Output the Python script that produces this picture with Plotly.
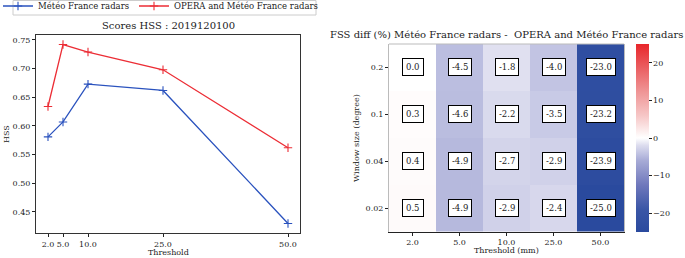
import plotly.graph_objects as go

# ---- data ----
thresholds = [2.0, 5.0, 10.0, 25.0, 50.0]
hss_mf = [0.581, 0.607, 0.673, 0.662, 0.430]
hss_opera_mf = [0.634, 0.742, 0.729, 0.698, 0.562]

fss_x_labels = ["2.0", "5.0", "10.0", "25.0", "50.0"]
fss_y_labels = ["0.2", "0.1", "0.04", "0.02"]  # top to bottom
fss_diff = [
    [0.0, -4.5, -1.8, -4.0, -23.0],
    [0.3, -4.6, -2.2, -3.5, -23.2],
    [0.4, -4.9, -2.7, -2.9, -23.9],
    [0.5, -4.9, -2.9, -2.4, -25.0],
]
cbar_ticks = [20, 10, 0, -10, -20]

W, H = 685, 258
FONT = "DejaVu Serif"
TXT = "#222222"

def px(x):
    return x / W

def py(y):
    return (H - y) / H

fig = go.Figure()

blue = "#2a52be"
red = "#ec2d35"
fig.add_trace(go.Scatter(
    x=thresholds, y=hss_mf, mode="lines+markers", name="Météo France radars",
    line=dict(color=blue, width=1.3),
    marker=dict(symbol="cross-thin", size=6, line=dict(color=blue, width=1.1)),
    xaxis="x", yaxis="y", legend="legend"))
fig.add_trace(go.Scatter(
    x=thresholds, y=hss_opera_mf, mode="lines+markers", name="OPERA and Météo France radars",
    line=dict(color=red, width=1.3),
    marker=dict(symbol="cross-thin", size=6, line=dict(color=red, width=1.1)),
    xaxis="x", yaxis="y", legend="legend2"))

colorscale = [
    [0.0, "#2a4a9e"],
    [0.12, "#3a56a6"],
    [0.25, "#6f78bc"],
    [0.38, "#a7abd6"],
    [0.41, "#bbbee0"],
    [0.46, "#dcdcee"],
    [0.5, "#ffffff"],
    [0.62, "#f6c6c6"],
    [0.75, "#ef9394"],
    [0.88, "#ea5b5e"],
    [1.0, "#e8262b"],
]

col_idx = list(range(len(fss_x_labels)))
row_idx = list(range(len(fss_y_labels)))

fig.add_trace(go.Heatmap(
    x=col_idx, y=row_idx, z=fss_diff,
    zmin=-25, zmax=25, colorscale=colorscale,
    xaxis="x2", yaxis="y2", showscale=True, hoverinfo="skip", showlegend=False,
    colorbar=dict(
        x=px(636), xanchor="left", thickness=13, thicknessmode="pixels",
        xpad=0, ypad=0,
        len=(232 - 44) / H, lenmode="fraction", y=py(232), yanchor="bottom",
        tickvals=cbar_ticks, ticktext=[str(t).replace("-", "\u2212") for t in cbar_ticks],
        ticks="outside", ticklen=3, tickcolor=TXT,
        tickfont=dict(family=FONT, size=8, color=TXT),
        outlinewidth=0,
    ),
))

annotations = []
for r in row_idx:
    for c in col_idx:
        annotations.append(dict(
            x=c, y=r, xref="x2", yref="y2", text=f"{fss_diff[r][c]:.1f}",
            showarrow=False, font=dict(family=FONT, size=8.5, color=TXT),
            bgcolor="white", bordercolor="black", borderwidth=1, borderpad=3))

annotations += [
    dict(x=px(168), y=py(26), xref="paper", yref="paper", text="Scores HSS : 2019120100",
         showarrow=False, font=dict(family=FONT, size=10, color=TXT), xanchor="center", yanchor="middle"),
    dict(x=px(506), y=py(34), xref="paper", yref="paper",
         text="FSS diff (%) Météo France radars -  OPERA and Météo France radars",
         showarrow=False, font=dict(family=FONT, size=10, color=TXT), xanchor="center", yanchor="middle"),
    dict(x=px(168), y=py(252), xref="paper", yref="paper", text="Threshold",
         showarrow=False, font=dict(family=FONT, size=8, color=TXT), xanchor="center", yanchor="middle"),
    dict(x=px(506), y=py(250), xref="paper", yref="paper", text="Threshold (mm)",
         showarrow=False, font=dict(family=FONT, size=8, color=TXT), xanchor="center", yanchor="middle"),
    dict(x=px(6), y=py(134), xref="paper", yref="paper", text="HSS", textangle=-90,
         showarrow=False, font=dict(family=FONT, size=8, color=TXT), xanchor="center", yanchor="middle"),
    dict(x=px(356), y=py(138), xref="paper", yref="paper", text="Window size (degree)", textangle=-90,
         showarrow=False, font=dict(family=FONT, size=8, color=TXT), xanchor="center", yanchor="middle"),
]

tickfont = dict(family=FONT, size=8, color=TXT)
legfont = dict(family=FONT, size=8.5, color=TXT)

fig.update_layout(
    width=W, height=H, margin=dict(l=0, r=0, t=0, b=0, autoexpand=False),
    paper_bgcolor="white", plot_bgcolor="white",
    showlegend=True,
    legend=dict(orientation="h", x=px(-2), y=1.0 + 8.5 / H, xanchor="left", yanchor="top",
                borderwidth=0, bgcolor="rgba(255,255,255,0)", font=legfont, itemwidth=30),
    legend2=dict(orientation="h", x=px(134), y=1.0 + 8.5 / H, xanchor="left", yanchor="top",
                 borderwidth=0, bgcolor="rgba(255,255,255,0)", font=legfont, itemwidth=30),
    xaxis=dict(domain=[px(36), px(300)], range=[-0.4, 52.4],
               tickvals=thresholds, ticktext=fss_x_labels, ticks="outside", ticklen=3,
               tickcolor=TXT, tickfont=tickfont, showgrid=False, zeroline=False,
               showline=True, linecolor="#333333", linewidth=1, mirror=True),
    yaxis=dict(domain=[py(233), py(35)], range=[0.4133, 0.7587],
               tickvals=[0.45, 0.50, 0.55, 0.60, 0.65, 0.70, 0.75], tickformat=".2f",
               ticks="outside", ticklen=3, tickcolor=TXT, tickfont=tickfont,
               showgrid=False, zeroline=False,
               showline=True, linecolor="#333333", linewidth=1, mirror=True),
    xaxis2=dict(domain=[px(389), px(624)], anchor="y2", range=[-0.5, 4.5],
                tickvals=col_idx, ticktext=fss_x_labels,
                ticks="outside", ticklen=3, tickcolor=TXT, tickfont=tickfont,
                showgrid=False, zeroline=False,
                showline=True, linecolor="#222222", linewidth=1),
    yaxis2=dict(domain=[py(231.5), py(44)], anchor="x2", range=[3.5, -0.5],
                tickvals=row_idx, ticktext=fss_y_labels,
                ticks="outside", ticklen=3, tickcolor=TXT, tickfont=tickfont,
                showgrid=False, zeroline=False,
                showline=True, linecolor="#bbbbbb", linewidth=1, mirror=True),
    annotations=annotations,
    shapes=[
        dict(type="line", xref="paper", yref="paper", x0=px(389), x1=px(624),
             y0=py(44), y1=py(44), line=dict(color="#bbbbbb", width=1)),
        # legend frame
        dict(type="rect", xref="paper", yref="paper", x0=px(13), x1=px(316),
             y0=py(15), y1=py(0.5), line=dict(color="#cccccc", width=1),
             fillcolor="rgba(0,0,0,0)"),
    ],
)

fig.write_html("out.html", config={"displayModeBar": False},
               post_script="document.body.style.margin='0';document.body.style.overflow='hidden';")
